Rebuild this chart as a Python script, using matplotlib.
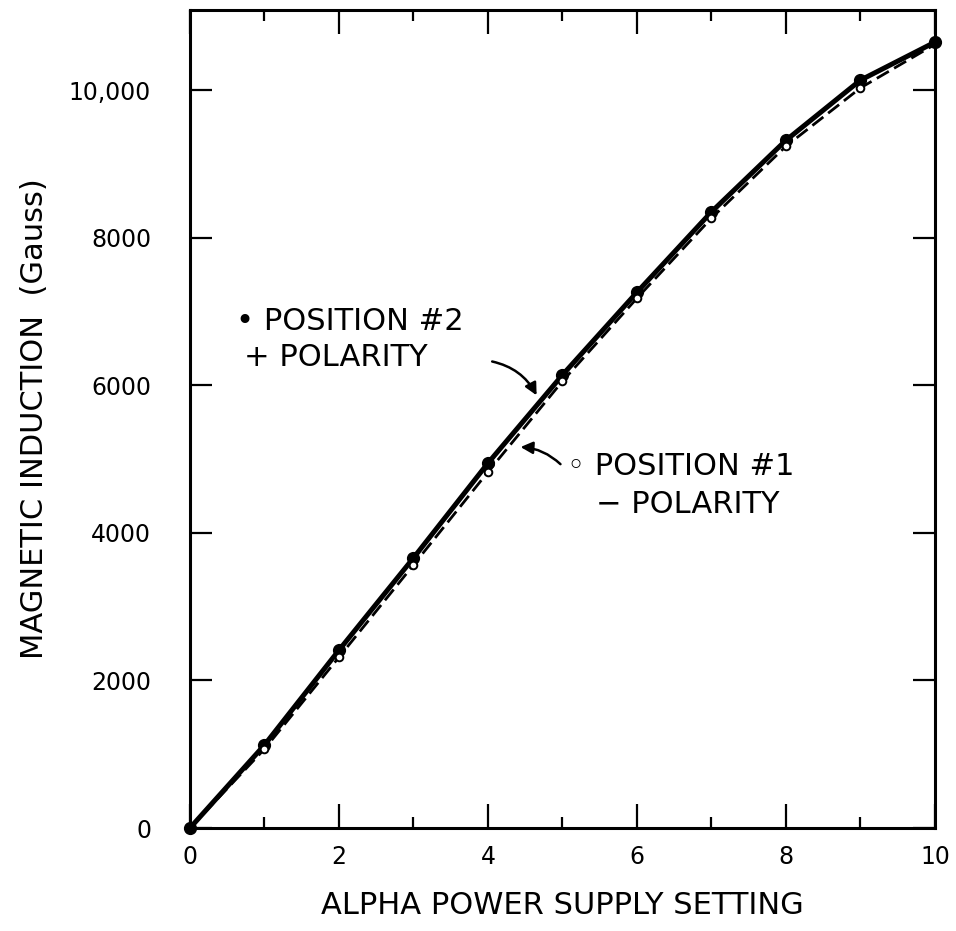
import numpy as np
import matplotlib.pyplot as plt

# alpha power supply setting
setting = [0, 1, 2, 3, 4, 5, 6, 7, 8, 9, 10]

# position #2, + polarity (filled dots, solid line)
pos2 = [0, 1125, 2410, 3660, 4945, 6140, 7260, 8350, 9320, 10135, 10650]
# position #1, - polarity (open dots, dashed line)
pos1 = [0, 1070, 2315, 3565, 4825, 6055, 7180, 8265, 9240, 10030, 10620]

yticks = [0, 2000, 4000, 6000, 8000, 10000]
ytick_labels = ['0', '2000', '4000', '6000', '8000', '10,000']

plt.rcParams['font.family'] = ['DejaVu Sans']

fig = plt.figure(figsize=(9.56, 9.31), dpi=100)
ax = fig.add_axes([0.1987, 0.1106, 0.7793, 0.8786])

# curves
ax.plot(setting, pos1, color='black', linewidth=2.0, dashes=(5, 2.2), zorder=2)
ax.plot(setting, pos2, color='black', linewidth=3.6, solid_capstyle='round', zorder=3)
ax.plot(setting, pos2, 'o', color='black', markersize=8.5, zorder=4, clip_on=False)
# the open dots at both ends sit under the filled ones
ax.plot(setting, pos1, 'o', markerfacecolor='white', markeredgecolor='black',
        markeredgewidth=1.4, markersize=5.5, markevery=slice(1, 10), zorder=5)

# labels on the curves
ax.text(0.62, 6860, '\u2022 POSITION #2', fontsize=22, va='center', ha='left')
ax.text(0.72, 6380, '+ POLARITY', fontsize=22, va='center', ha='left')
ax.annotate('', xy=(4.67, 5830), xytext=(4.02, 6330),
            arrowprops=dict(arrowstyle='-|>', color='black', lw=1.8,
                            mutation_scale=18,
                            connectionstyle='arc3,rad=-0.25'))

ax.text(5.06, 4905, '\u25e6 POSITION #1', fontsize=22, va='center', ha='left')
ax.text(5.45, 4380, '\u2212 POLARITY', fontsize=22, va='center', ha='left')
ax.annotate('', xy=(4.40, 5165), xytext=(5.0, 4905),
            arrowprops=dict(arrowstyle='-|>', color='black', lw=1.8,
                            mutation_scale=18,
                            connectionstyle='arc3,rad=0.2'))

# axes
ax.set_xlim(0, 10)
ax.set_ylim(0, 11085)
ax.set_xticks(np.arange(0, 11, 2))
ax.set_xticks(np.arange(1, 10, 2), minor=True)
ax.set_yticks(yticks)
ax.set_yticklabels(ytick_labels)

ax.tick_params(axis='x', which='major', direction='in', length=17, width=1.6,
               top=True, labelsize=17, pad=12)
ax.tick_params(axis='x', which='minor', direction='in', length=8, width=1.6, top=True)
ax.tick_params(axis='y', which='major', direction='in', length=16, width=1.6,
               right=True, labelsize=17, pad=28)

for sp in ax.spines.values():
    sp.set_linewidth(2.2)

ax.set_xlabel('ALPHA POWER SUPPLY SETTING', fontsize=22, labelpad=16)
ax.set_ylabel('MAGNETIC INDUCTION  (Gauss)', fontsize=22, labelpad=14)

fig.savefig('out.png', dpi=100)
